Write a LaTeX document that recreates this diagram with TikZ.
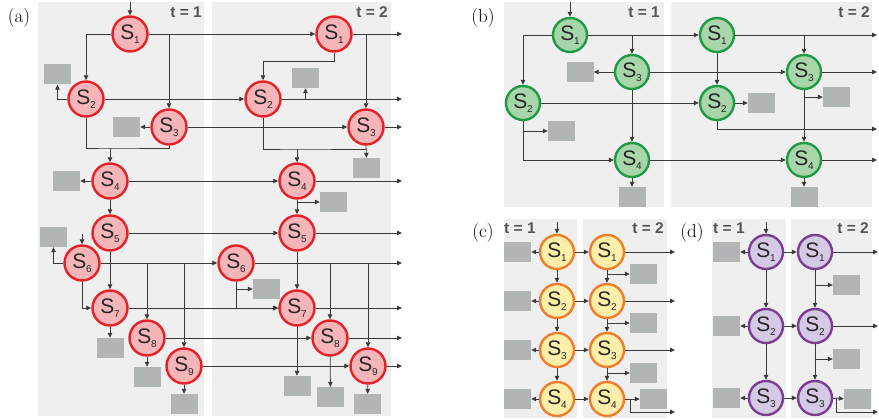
\documentclass[tikz,border=0pt]{standalone}
\usepackage{fontspec}
\setsansfont{Liberation Sans}
\usetikzlibrary{arrows.meta}
\definecolor{bgc}{HTML}{EFEFEF}
\definecolor{boxc}{HTML}{B2B5B5}
\definecolor{linec}{HTML}{3A3A3A}
\definecolor{redb}{HTML}{E52228}
\definecolor{redf}{HTML}{F6B6B9}
\definecolor{grnb}{HTML}{1F9A45}
\definecolor{grnf}{HTML}{A9D5AA}
\definecolor{orb}{HTML}{F07D2D}
\definecolor{orf}{HTML}{FDEFAA}
\definecolor{pub}{HTML}{7B3F8F}
\definecolor{puf}{HTML}{D5C9E6}
\definecolor{tlab}{HTML}{555555}
\newcommand{\Sx}[1]{\fontsize{21}{21}\selectfont S\kern-0.3pt\raisebox{-4.5pt}{\fontsize{10}{10}\selectfont #1}}
\begin{document}
\begin{tikzpicture}[x=1pt,y=-1pt,
  st/.style={circle, minimum size=35pt, inner sep=0pt, line width=2.4pt, font=\sffamily, text=black!85},
  sa/.style={st, draw=redb, fill=redf},
  sb/.style={st, draw=grnb, fill=grnf, minimum size=34pt},
  sc/.style={st, draw=orb, fill=orf, minimum size=34pt},
  sd/.style={st, draw=pub, fill=puf, minimum size=34pt},
  box/.style={fill=boxc, minimum width=27pt, minimum height=20pt, inner sep=0pt},
  bgr/.style={fill=bgc, draw=none},
  con/.style={draw=linec, line width=0.8pt, -{Triangle[length=5pt,width=4.5pt]}},
  ln/.style={draw=linec, line width=0.8pt},
  tl/.style={font=\sffamily\bfseries\fontsize{15.5}{15.5}\selectfont, text=tlab, inner sep=0pt},
  pl/.style={font=\fontsize{19}{19}\selectfont, inner sep=0pt}]
\useasboundingbox (0,0) rectangle (879,419);
% backgrounds
\fill[bgr] (38,2) rectangle (204,416);
\fill[bgr] (212,2) rectangle (391,416);
\fill[bgr] (504,2) rectangle (664,207);
\fill[bgr] (671,2) rectangle (872,207);
\fill[bgr] (504,219) rectangle (577,418);
\fill[bgr] (583,219) rectangle (667,418);
\fill[bgr] (712,219) rectangle (786,418);
\fill[bgr] (791,219) rectangle (872,418);
% labels
\node[pl] (la) at (19,18) {(a)};
\node[pl] (lb) at (483,18) {(b)};
\node[pl] (lc) at (483,233) {(c)};
\node[pl] (ld) at (692,233) {(d)};
\node[tl, anchor=east] (ta1) at (202,12) {t = 1};
\node[tl, anchor=east] (ta2) at (388,12) {t = 2};
\node[tl, anchor=east] (tb1) at (660,12) {t = 1};
\node[tl, anchor=east] (tb2) at (870,12) {t = 2};
\node[tl, anchor=west] (tc1) at (504,228) {t = 1};
\node[tl, anchor=east] (tc2) at (664,228) {t = 2};
\node[tl, anchor=west] (td1) at (713,228) {t = 1};
\node[tl, anchor=east] (td2) at (869,228) {t = 2};

% ================= panel (a) =================
\node[sa] (a11) at (130,34) {\Sx1};
\node[sa] (a12) at (86,99) {\Sx2};
\node[sa] (a13) at (169,127) {\Sx3};
\node[sa] (a14) at (110,181) {\Sx4};
\node[sa] (a15) at (110,233) {\Sx5};
\node[sa] (a16) at (82,263) {\Sx6};
\node[sa] (a17) at (110,308) {\Sx7};
\node[sa] (a18) at (147,338) {\Sx8};
\node[sa] (a19) at (184,366) {\Sx9};
\node[box] (ab2) at (57.5,74.5) {};
\node[box] (ab3) at (126.5,127) {};
\node[box] (ab4) at (66.5,181) {};
\node[box] (ab6) at (53.5,237) {};
\node[box] (ab7) at (110,348) {};
\node[box] (ab8) at (147,377) {};
\node[box] (ab9) at (184,404) {};
\node[sa] (b11) at (334,34) {\Sx1};
\node[sa] (b12) at (263,99) {\Sx2};
\node[sa] (b13) at (366,127) {\Sx3};
\node[sa] (b14) at (297,181) {\Sx4};
\node[sa] (b15) at (297,233) {\Sx5};
\node[sa] (b16) at (236,263) {\Sx6};
\node[sa] (b17) at (297,308) {\Sx7};
\node[sa] (b18) at (330,338) {\Sx8};
\node[sa] (b19) at (368,366) {\Sx9};
\node[box] (bb2) at (305.5,78) {};
\node[box] (bb3) at (366.5,168) {};
\node[box] (bb4) at (333.5,202) {};
\node[box] (bb6) at (266.5,289) {};
\node[box] (bb7) at (297,386) {};
\node[box] (bb8) at (330.5,397) {};
\node[box] (bb9) at (367.5,404) {};
\coordinate (ain1) at (130,2);
\coordinate (ain6) at (82,234);
\coordinate (aj1) at (110,148);
\coordinate (bj1) at (297,149);
\foreach \i/\y in {1/34,2/99,3/127,4/181,5/233,6/263,7/308,8/338,9/366}
  \coordinate (aout\i) at (402,\y);
% t=1 connectors
\draw[con] (ain1) -- (a11.north);
\draw[con] (a11.west) -| (a12.north);
\draw[con] (a11.east) -| (a13.north);
\draw[con] (a11.east) -- (b11.west);
\draw[con] (a12.west) -| (ab2.south);
\draw[con] (a12.east) -- (b12.west);
\draw[con] (a13.west) -- (ab3.east);
\draw[con] (a13.east) -- (b13.west);
\draw[ln] (a12.south) |- (aj1) -| (a13.south);
\draw[con] (aj1) -- (a14.north);
\draw[con] (a14.west) -- (ab4.east);
\draw[con] (a14.east) -- (b14.west);
\draw[con] (a14) -- (a15);
\draw[con] (a15.east) -- (b15.west);
\draw[con] (ain6) -- (a16.north);
\draw[con] (a16.west) -| (ab6.south);
\draw[con] (a16.east) -- (b16.west);
\draw[con] (a18.north |- a16.east) -- (a18.north);
\draw[con] (a19.north |- a16.east) -- (a19.north);
\draw[con] (a15) -- (a17);
\draw[con] (a16.south) |- (a17.west);
\draw[con] (a17) -- (ab7);
\draw[con] (a17.east) -- (b17.west);
\draw[con] (a18) -- (ab8);
\draw[con] (a18.east) -- (b18.west);
\draw[con] (a19) -- (ab9);
\draw[con] (a19.east) -- (b19.west);
% t=2 connectors
\draw[con] (b11.east) -- (aout1);
\draw[con] (b11.south) -- ++(0,9) -| (b12.north);
\draw[con] (b11.east) -| (b13.north);
\draw[con] (b12.east -| bb2.south) -- (bb2.south);
\draw[con] (b12.east) -- (aout2);
\draw[con] (b13.east) -- (aout3);
\draw[ln] (b12.south) |- (bj1) -- (b13.south |- bj1);
\draw[con] (b13.south) -- (bb3.north);
\draw[con] (bj1) -- (b14.north);
\draw[con] (b14.east) -- (aout4);
\draw[con] (b14.south |- bb4.west) -- (bb4.west);
\draw[con] (b14.south) -- (b15.north);
\draw[con] (b15.east) -- (aout5);
\draw[con] (b15) -- (b17);
\draw[con] (b16.east) -- (aout6);
\draw[con] (b18.north |- b16.east) -- (b18.north);
\draw[con] (b19.north |- b16.east) -- (b19.north);
\draw[con] (b16.south |- bb6.west) -- (bb6.west);
\draw[con] (b16.south) |- (b17.west);
\draw[con] (b17) -- (bb7);
\draw[con] (b17.east) -- (aout7);
\draw[con] (b18) -- (bb8);
\draw[con] (b18.east) -- (aout8);
\draw[con] (b19) -- (bb9);
\draw[con] (b19.east) -- (aout9);

% ================= panel (b) =================
\node[sb] (p11) at (570,35) {\Sx1};
\node[sb] (p12) at (523,103) {\Sx2};
\node[sb] (p13) at (632,72) {\Sx3};
\node[sb] (p14) at (632,160) {\Sx4};
\node[sb] (q11) at (717,35) {\Sx1};
\node[sb] (q12) at (717,103) {\Sx2};
\node[sb] (q13) at (804,72) {\Sx3};
\node[sb] (q14) at (804,160) {\Sx4};
\node[box] (pb3) at (580,72) {};
\node[box] (pb2) at (561.5,131) {};
\node[box] (pb4) at (632,197) {};
\node[box] (qb2) at (761.5,103) {};
\node[box] (qb3) at (836.5,97) {};
\node[box] (qb4) at (804,197) {};
\coordinate (pin) at (570,2);
\coordinate (qo1) at (877,35);
\coordinate (qo3) at (877,72);
\coordinate (qo2) at (877,129);
\coordinate (qo4) at (877,160);
\draw[con] (pin) -- (p11.north);
\draw[con] (p11.west) -| (p12.north);
\draw[con] (p11.east) -| (p13.north);
\draw[con] (p11.east) -- (q11.west);
\draw[con] (p13.west) -- (pb3.east);
\draw[con] (p13.east) -- (q13.west);
\draw[con] (p13) -- (p14);
\draw[con] (p12.east) -- (q12.west);
\draw[con] (p12.south) |- (pb2.west);
\draw[con] (p12.south) |- (p14.west);
\draw[con] (p14) -- (pb4);
\draw[con] (p14.east) -- (q14.west);
\draw[con] (q11.east) -- (qo1);
\draw[con] (q11.east) -| (q13.north);
\draw[con] (q11) -- (q12);
\draw[con] (q13.east) -- (qo3);
\draw[con] (q12.east) -- (qb2.west);
\draw[con] (q12.south) |- (qo2);
\draw[con] (q13.south) |- (qb3.west);
\draw[con] (q13) -- (q14);
\draw[con] (q14.east) -- (qo4);
\draw[con] (q14) -- (qb4);

% ================= panel (c) =================
\foreach \i/\y in {1/252,2/301,3/350,4/399}{
  \node[sc] (r1\i) at (557,\y) {\Sx\i};
  \node[sc] (r2\i) at (607,\y) {\Sx\i};
  \node[box] (rb1\i) at (517.5,\y) {};
}
\node[box] (rb21) at (643.5,274) {};
\node[box] (rb22) at (643.5,323) {};
\node[box] (rb23) at (643.5,373) {};
\node[box] (rb24) at (653.5,399) {};
\coordinate (rin) at (557,222);
\coordinate (ro1) at (675,252);
\coordinate (ro2) at (675,301);
\coordinate (ro3) at (675,350);
\coordinate (ro4) at (675,412);
\coordinate (rj4) at (630,399);
\draw[con] (rin) -- (r11.north);
\foreach \i in {1,2,3,4}{
  \draw[con] (r1\i.west) -- (rb1\i.east);
  \draw[con] (r1\i.east) -- (r2\i.west);
}
\foreach \i/\j in {1/2,2/3,3/4}{
  \draw[con] (r1\i) -- (r1\j);
  \draw[con] (r2\i.south |- rb2\i.west) -- (rb2\i.west);
  \draw[con] (r2\i) -- (r2\j);
  \draw[con] (r2\i.east) -- (ro\i);
}
\draw[ln] (r24.east) -- (rj4);
\draw[con] (rj4) -- (rb24.west);
\draw[con] (rj4) |- (ro4);

% ================= panel (d) =================
\foreach \i/\y in {1/252,2/326,3/398}{
  \node[sd] (s1\i) at (766,\y) {\Sx\i};
  \node[sd] (s2\i) at (815,\y) {\Sx\i};
  \node[box] (sb1\i) at (726.5,\y) {};
}
\node[box] (sb21) at (846.5,285) {};
\node[box] (sb22) at (846.5,359) {};
\node[box] (sb23) at (857.5,399) {};
\coordinate (sin) at (766,222);
\coordinate (so1) at (878,252);
\coordinate (so2) at (878,326);
\coordinate (so3) at (878,412);
\coordinate (sj3) at (836,398);
\draw[con] (sin) -- (s11.north);
\foreach \i in {1,2,3}{
  \draw[con] (s1\i.west) -- (sb1\i.east);
  \draw[con] (s1\i.east) -- (s2\i.west);
}
\foreach \i/\j in {1/2,2/3}{
  \draw[con] (s1\i) -- (s1\j);
  \draw[con] (s2\i.south |- sb2\i.west) -- (sb2\i.west);
  \draw[con] (s2\i) -- (s2\j);
  \draw[con] (s2\i.east) -- (so\i);
}
\draw[ln] (s23.east) -- (sj3);
\draw[con] (sj3) -- (sb23.west);
\draw[con] (sj3) |- (so3);
\end{tikzpicture}
\end{document}
